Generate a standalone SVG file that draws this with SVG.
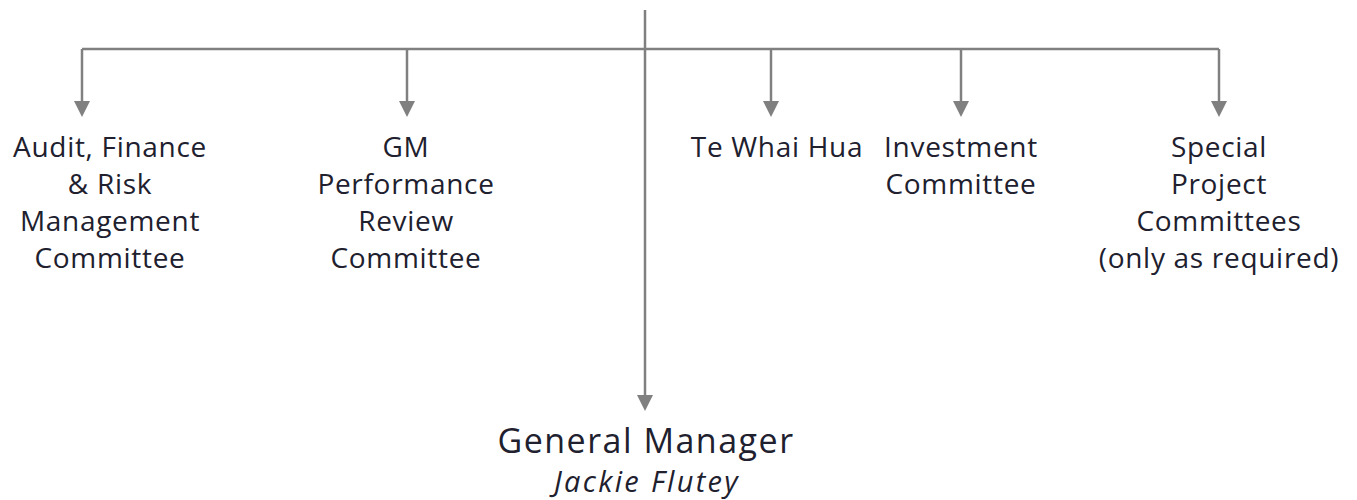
<svg xmlns="http://www.w3.org/2000/svg" width="1357" height="500" viewBox="0 0 1357 500">
<style>
.t{font-family:"Open Sans","Liberation Sans",sans-serif;font-size:28px;fill:#20202e;text-anchor:middle;letter-spacing:0.7px}
.c{stroke:#808080;stroke-width:2.5;fill:none}
.a{marker-end:url(#ah)}
</style>
<defs>
<marker id="ah" markerUnits="userSpaceOnUse" markerWidth="16" markerHeight="16" viewBox="0 0 16 16" refX="0" refY="8" orient="auto">
<path d="M0,0 L16,8 L0,16 Z" fill="#808080"/>
</marker>
</defs>
<rect width="1357" height="500" fill="#fff"/>
<g id="connectors">
<path class="c" d="M82,49 H1219"/>
<path class="c a" d="M82,49 V101"/>
<path class="c a" d="M407,49 V101"/>
<path class="c a" d="M771,49 V101"/>
<path class="c a" d="M961,49 V101"/>
<path class="c a" d="M1219,49 V101"/>
<path class="c a" d="M645,10 V395"/>
</g>
<g id="audit">
<text class="t" x="110" y="157">Audit, Finance</text>
<text class="t" x="110" y="194">&amp; Risk</text>
<text class="t" x="110" y="231">Management</text>
<text class="t" x="110" y="268">Committee</text>
</g>
<g id="gm-review">
<text class="t" x="406" y="157">GM</text>
<text class="t" x="406" y="194">Performance</text>
<text class="t" x="406" y="231">Review</text>
<text class="t" x="406" y="268">Committee</text>
</g>
<g id="te-whai-hua">
<text class="t" x="777" y="157">Te Whai Hua</text>
</g>
<g id="investment">
<text class="t" x="961" y="157">Investment</text>
<text class="t" x="961" y="194">Committee</text>
</g>
<g id="special">
<text class="t" x="1219" y="157">Special</text>
<text class="t" x="1219" y="194">Project</text>
<text class="t" x="1219" y="231">Committees</text>
<text class="t" x="1219" y="268">(only as required)</text>
</g>
<g id="general-manager">
<text class="t" x="646" y="453" style="font-size:34px;letter-spacing:1.5px">General Manager</text>
<text class="t" x="647" y="492" style="font-style:italic;font-size:29px;letter-spacing:2.3px">Jackie Flutey</text>
</g>
</svg>
